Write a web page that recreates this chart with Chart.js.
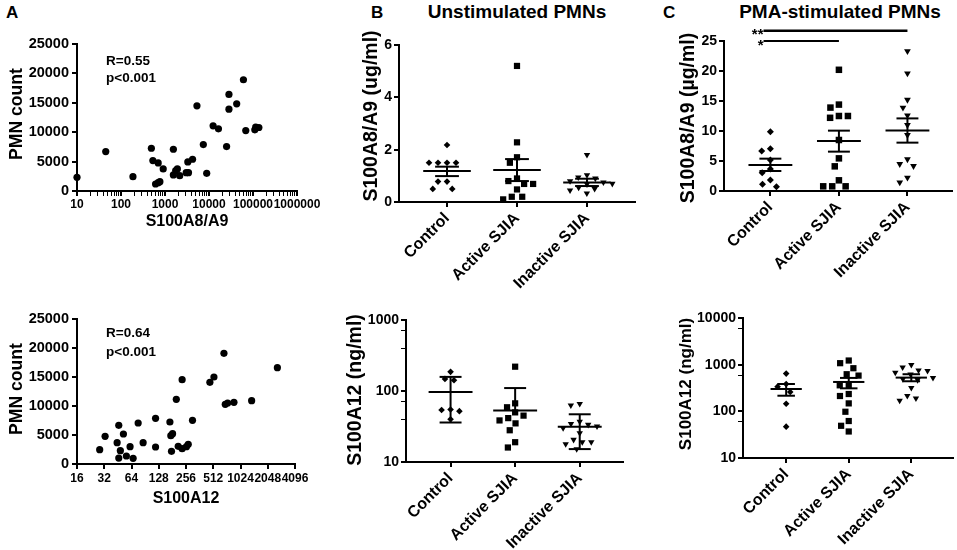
<!DOCTYPE html>
<html>
<head>
<meta charset="utf-8">
<title>S100 proteins and PMN count in SJIA</title>
<script src="https://cdn.jsdelivr.net/npm/chart.js@4.4.1/dist/chart.umd.min.js"></script>
<style>
  html, body { margin: 0; padding: 0; background: #fff; overflow: hidden; }
  #fig { position: relative; width: 957px; height: 550px; font-family: "Liberation Sans", Arial, sans-serif; font-weight: bold; color: #000; }
  #fig canvas { position: absolute; }
  .tag { position: absolute; font-size: 17px; line-height: 20px; }
  .head { position: absolute; font-size: 19px; line-height: 22px; text-align: center; white-space: nowrap; }
</style>
</head>
<body>
<div id="fig">
  <div class="tag" style="left:6px;top:3px">A</div>
  <div class="tag" style="left:371px;top:3px">B</div>
  <div class="tag" style="left:663px;top:3px">C</div>
  <div class="head" style="left:387px;top:1px;width:260px">Unstimulated PMNs</div>
  <div class="head" style="left:710px;top:1px;width:260px">PMA-stimulated PMNs</div>
</div>
<script>
// ---- data ----
const groups = ["Control", "Active SJIA", "Inactive SJIA"];

// A, top: S100A8/A9 vs PMN count
const a1X = [10, 45, 187, 490, 530, 610, 700, 765, 700, 910, 1550, 1550, 1750, 1910, 2160, 3030, 3420, 3300, 4230, 5320, 7430, 8870, 12400, 16400, 25100, 28400, 28400, 42600, 60600, 68500, 110000, 115000, 136000];
const a1Y = [2330, 6700, 2440, 7270, 5170, 1190, 1420, 1590, 4770, 3750, 7100, 2730, 3470, 3750, 2610, 3120, 3120, 4940, 5400, 14490, 7900, 3010, 11080, 10570, 7560, 13920, 16420, 14830, 18920, 10280, 10400, 10850, 10800];
const a1Notes = ["R=0.55", "p<0.001"];

// A, bottom: S100A12 vs PMN count
const a2X = [28.5, 32.7, 44.4, 46.3, 46.3, 48.2, 52.1, 56.2, 61.7, 66.7, 75.8, 86, 118, 118, 170, 174, 182, 177, 200, 210, 232, 232, 259, 271, 302, 470, 521, 672, 695, 738, 867, 1360, 2616];
const a2Y = [2470, 4770, 3680, 6670, 1030, 2300, 5170, 1380, 2990, 980, 7070, 3680, 7870, 2930, 7240, 4890, 5230, 2180, 11150, 3050, 2640, 14540, 2990, 3390, 7530, 14080, 15000, 19080, 10290, 10520, 10630, 10920, 16610];
const a2Notes = ["R=0.64", "p<0.001"];

const pmnTicks = [0, 5000, 10000, 15000, 20000, 25000];
const a1XDecades = [10, 100, 1000, 10000, 100000, 1000000];
const a2XTicks = [16, 32, 64, 128, 256, 512, 1024, 2048, 4096];

// B, top: unstimulated S100A8/A9 (ug/ml), mean +/- SEM
const b1Control = [2.18, 1.5, 1.5, 1.5, 1.5, 0.78, 0.78, 0.5, 0.5];
const b1Active = [5.2, 2.28, 1.71, 1.5, 0.9, 0.8, 0.69, 0.69, 0.48, 0.2, 0.2, 0.1];
const b1Inactive = [1.8, 1.03, 0.94, 0.9, 0.8, 0.75, 0.7, 0.68, 0.55, 0.5, 0.45, 0.33];
const b1Mean = [1.18, 1.22, 0.75];
const b1Low = [0.99, 0.8, 0.61];
const b1High = [1.35, 1.64, 0.89];
const b1Ticks = [0, 2, 4, 6];

// B, bottom: unstimulated S100A12 (ng/ml), mean +/- SD
const b2Control = [186, 142, 148, 55, 52, 54, 40];
const b2Active = [220, 67, 59, 45, 50, 41.5, 38.5, 35, 28, 19, 16];
const b2Inactive = [66, 63, 37, 33.5, 31.7, 30, 34.6, 25.5, 19.1, 20.6, 17.9, 19.1, 15.2];
const b2Mean = [97, 53, 31.4];
const b2Low = [36, null, 15.2];
const b2High = [158, 110, 47];
const b2Decades = [10, 100, 1000];

// C, top: PMA-stimulated S100A8/A9 (ug/ml), mean +/- SEM
const c1Control = [9.89, 7.06, 6.67, 5.17, 3.67, 3.06, 1.83, 1.11, 0.72];
const c1Active = [20.2, 14.4, 13.9, 12.5, 12.2, 12.5, 8.5, 5.44, 4.11, 1.78, 0.78, 0.78, 0.78];
const c1Inactive = [23.3, 19.6, 15.2, 13.9, 12.6, 11.0, 9.33, 5.28, 4.5, 4.17, 2.22, 1.44];
const c1Mean = [4.35, 8.33, 10.1];
const c1Low = [3.33, 6.56, 8.06];
const c1High = [5.39, 10.06, 12.1];
const c1Ticks = [0, 5, 10, 15, 20, 25];
const c1Sig = [[0, 1, 25, "*"], [0, 2, 26.7, "**"]];

// C, bottom: PMA-stimulated S100A12 (ng/ml), mean +/- SEM
const c2Control = [644, 385, 338, 259, 145, 47];
const c2Active = [1227, 1076, 839, 624, 583, 361, 367, 235, 213, 148, 98, 62, 49, 37];
const c2Inactive = [990, 880, 760, 740, 680, 620, 520, 490, 470, 320, 215, 190, 170];
const c2Mean = [301, 426, 528];
const c2Low = [216, 311, 441];
const c2High = [385, 520, 624];
const c2Decades = [10, 100, 1000, 10000];

// ---- setup ----
const FONT = '"Liberation Sans", Arial, sans-serif';
Chart.defaults.font.family = FONT;
Chart.defaults.font.weight = 'bold';
Chart.defaults.color = '#000';

const X_TITLE = 16;

// where each plot area and its y title sit on the page
const boxes = {
  a1: { x: 0, y: 0, w: 340, h: 245, L: 77, T: 44, R: 297, B: 191, yTitle: 17, yMid: 114, ySize: 17.6, xTitle: 222 },
  a2: { x: 0, y: 280, w: 340, h: 240, L: 77, T: 319, R: 295, B: 464, yTitle: 17, yMid: 389, ySize: 17.6, xTitle: 499 },
  b1: { x: 360, y: 0, w: 300, h: 300, L: 399, T: 45, R: 635, B: 202, yTitle: 372, yMid: 116, ySize: 19.5 },
  b2: { x: 340, y: 295, w: 320, h: 255, L: 406, T: 320, R: 623, B: 462, yTitle: 356, yMid: 390, ySize: 19.5 },
  c1: { x: 660, y: 0, w: 297, h: 300, L: 724, T: 41, R: 954, B: 191, yTitle: 689, yMid: 118, ySize: 19.5 },
  c2: { x: 660, y: 295, w: 297, h: 255, L: 743, T: 318, R: 955, B: 458, yTitle: 686, yMid: 384, ySize: 17 },
};

// decades plus 2..9 minor ticks
function logTicks(decades) {
  const t = [];
  decades.forEach((d, i) => {
    t.push({ value: d, major: true });
    if (i < decades.length - 1) for (let m = 2; m <= 9; m++) t.push({ value: d * m, major: false });
  });
  return t;
}

// rotated y-axis title, drawn at full size (the built-in one shrinks to the axis length)
const yTitlePlugin = {
  id: 'ytitle',
  afterDraw(chart, args, o) {
    if (!o.text) return;
    const ctx = chart.ctx;
    ctx.save();
    ctx.translate(o.x, o.y);
    ctx.rotate(-Math.PI / 2);
    ctx.font = 'bold ' + o.size + 'px ' + FONT;
    ctx.fillStyle = '#000';
    ctx.textAlign = 'center';
    ctx.textBaseline = 'middle';
    ctx.fillText(o.text, 0, 0);
    ctx.restore();
  }
};

const summaryPlugin = {
  id: 'summary',
  afterDatasetsDraw(chart, args, o) {
    const { ctx, scales: { x, y } } = chart;
    const unit = x.getPixelForValue(1) - x.getPixelForValue(0);
    const seg = (x0, x1, y0, y1) => { ctx.beginPath(); ctx.moveTo(x0, y0); ctx.lineTo(x1, y1); ctx.stroke(); };
    ctx.save();
    ctx.strokeStyle = '#000';
    ctx.lineWidth = 2;
    o.mean.forEach((m, i) => {
      const cx = x.getPixelForValue(i);
      const my = y.getPixelForValue(m);
      const hy = y.getPixelForValue(o.high[i]);
      const ly = o.low[i] == null ? my : y.getPixelForValue(o.low[i]);
      seg(cx - o.half * unit, cx + o.half * unit, my, my);
      seg(cx, cx, ly, hy);
      seg(cx - o.cap * unit, cx + o.cap * unit, hy, hy);
      if (o.low[i] != null) seg(cx - o.cap * unit, cx + o.cap * unit, ly, ly);
    });
    ctx.restore();
  }
};

const notesPlugin = {
  id: 'notes',
  afterDraw(chart, args, o) {
    const { ctx, chartArea } = chart;
    ctx.save();
    ctx.font = 'bold 13.5px ' + FONT;
    ctx.fillStyle = '#000';
    ctx.textBaseline = 'middle';
    o.lines.forEach((t, i) => ctx.fillText(t, chartArea.left + o.dx, chartArea.top + o.dy[i]));
    ctx.restore();
  }
};

const sigPlugin = {
  id: 'sig',
  afterDraw(chart, args, o) {
    const { ctx, scales: { x, y } } = chart;
    ctx.save();
    ctx.strokeStyle = '#000';
    ctx.fillStyle = '#000';
    ctx.font = 'bold 15px ' + FONT;
    ctx.textAlign = 'right';
    ctx.textBaseline = 'alphabetic';
    o.pairs.forEach(([a, b, level, mark], i) => {
      const x0 = x.getPixelForValue(a - 0.1), x1 = x.getPixelForValue(b);
      const py = y.getPixelForValue(level);
      ctx.lineWidth = i === 0 ? 2 : 2.5;
      ctx.beginPath(); ctx.moveTo(x0, py); ctx.lineTo(x1, py); ctx.stroke();
      ctx.fillText(mark, x0, py + 8.5);
    });
    ctx.restore();
  }
};

function baseAxis(type, min, max, title, titleSize) {
  return {
    type, min, max,
    border: { display: true, color: '#000', width: 2 },
    grid: {
      drawOnChartArea: false, drawTicks: true, tickLength: 5, color: '#000',
      lineWidth: c => (c.tick && c.tick.major === false ? 1 : 2),
    },
    ticks: { color: '#000', padding: 2, font: { size: 14, weight: 'bold' } },
    title: title ? { display: true, text: title, color: '#000', padding: 0, font: { size: titleSize, weight: 'bold' } } : { display: false },
  };
}

function mount(p, yText, config) {
  const c = document.createElement('canvas');
  c.width = p.w; c.height = p.h;
  c.style.left = p.x + 'px';
  c.style.top = p.y + 'px';
  document.getElementById('fig').appendChild(c);
  const yW = p.L - p.x;
  const xH = p.xTitle ? p.xTitle + X_TITLE * 0.6 - p.B : p.y + p.h - p.B;
  config.options.layout = {
    padding: { left: 0, top: p.T - p.y, right: p.x + p.w - p.R, bottom: p.y + p.h - p.B - xH }
  };
  config.options.scales.x.afterFit = s => { s.height = xH; };
  config.options.scales.y.afterFit = s => { s.width = yW; };
  config.options.responsive = false;
  config.options.animation = false;
  config.options.events = [];
  config.options.plugins.legend = { display: false };
  config.options.plugins.tooltip = { enabled: false };
  config.options.plugins.ytitle = { text: yText, size: p.ySize, x: p.yTitle - p.x, y: p.yMid - p.y };
  config.plugins.push(yTitlePlugin);
  return new Chart(c, config);
}

// ---- A: correlation scatters ----
function scatterPanel(p, xs, ys, xAxis, notes, noteDy) {
  const y = baseAxis('linear', 0, 25000);
  y.afterBuildTicks = a => { a.ticks = pmnTicks.map(v => ({ value: v })); };
  y.ticks.callback = v => String(v);
  y.ticks.font.size = 14.5;
  y.ticks.padding = 3;
  return mount(p, 'PMN count', {
    type: 'scatter',
    data: {
      datasets: [{
        data: xs.map((v, i) => ({ x: v, y: ys[i] })),
        pointStyle: 'circle', pointRadius: 3.6,
        pointBackgroundColor: '#000', pointBorderWidth: 0, clip: false,
      }]
    },
    options: { scales: { x: xAxis, y }, plugins: { notes: { lines: notes, dx: 29, dy: noteDy } } },
    plugins: [notesPlugin],
  });
}

const a1Axis = baseAxis('logarithmic', 10, 1000000, 'S100A8/A9', X_TITLE);
a1Axis.afterBuildTicks = a => { a.ticks = logTicks(a1XDecades); };
Object.assign(a1Axis.ticks, { font: { size: 12, weight: 'bold' }, padding: 1, autoSkip: false, maxRotation: 0, minRotation: 0,
  callback: (v, i, t) => (t[i].major ? String(v) : '') });
scatterPanel(boxes.a1, a1X, a1Y, a1Axis, a1Notes, [17, 34]);

const a2Axis = baseAxis('logarithmic', 16, 4096, 'S100A12', X_TITLE);
a2Axis.afterBuildTicks = a => { a.ticks = a2XTicks.map(v => ({ value: v, major: true })); };
Object.assign(a2Axis.ticks, { font: { size: 12, weight: 'bold' }, padding: 2, autoSkip: false, maxRotation: 0, minRotation: 0,
  callback: v => String(v) });
scatterPanel(boxes.a2, a2X, a2Y, a2Axis, a2Notes, [14, 33]);

// ---- B and C: group dot plots ----
// spread each group sideways so that markers do not overlap
function swarm(chart, gap) {
  const xs = chart.scales.x, ys = chart.scales.y;
  const unit = xs.getPixelForValue(1) - xs.getPixelForValue(0);
  chart.data.datasets.forEach((ds, g) => {
    const pts = ds.data.map(pt => ({ pt, py: ys.getPixelForValue(pt.y), dx: 0 }));
    const placed = [];
    pts.slice().sort((a, b) => a.py - b.py).forEach(q => {
      const near = placed.filter(r => Math.abs(r.py - q.py) < gap);
      const cands = [0];
      near.forEach(r => {
        const s = Math.sqrt(gap * gap - (r.py - q.py) ** 2);
        cands.push(r.dx - s, r.dx + s);
      });
      cands.sort((a, b) => Math.abs(a) - Math.abs(b) || a - b);
      q.dx = cands.find(c => near.every(r => Math.hypot(c - r.dx, r.py - q.py) >= gap - 0.01));
      placed.push(q);
    });
    pts.forEach(q => { q.pt.x = g + q.dx / unit; });
  });
  chart.update('none');
}

function dotPanel(p, sets, xRange, y, yText, summary, sizes, extra) {
  const styles = ['rectRot', 'rect', 'triangle'];
  const x = baseAxis('linear', xRange[0], xRange[1]);
  x.afterBuildTicks = a => { a.ticks = groups.map((g, i) => ({ value: i })); };
  Object.assign(x.ticks, { font: { size: 16, weight: 'bold' }, padding: 2, autoSkip: false, maxRotation: 45, minRotation: 45,
    callback: v => groups[v] });
  const plugins = { summary };
  const list = [summaryPlugin];
  if (extra) { plugins.sig = extra; list.push(sigPlugin); }
  const chart = mount(p, yText, {
    type: 'scatter',
    data: {
      datasets: sets.map((vals, g) => ({
        data: vals.map(v => ({ x: g, y: v })),
        pointStyle: styles[g], pointRadius: sizes[g], pointRotation: g === 2 ? 180 : 0,
        pointBackgroundColor: '#000', pointBorderWidth: 0, clip: false,
      }))
    },
    options: { scales: { x, y }, plugins },
    plugins: list,
  });
  swarm(chart, 9);
  return chart;
}

function linearY(max, ticks) {
  const y = baseAxis('linear', 0, max);
  y.afterBuildTicks = a => { a.ticks = ticks.map(v => ({ value: v })); };
  y.ticks.callback = v => String(v);
  return y;
}

function logY(decades) {
  const y = baseAxis('logarithmic', decades[0], decades[decades.length - 1]);
  y.afterBuildTicks = a => { a.ticks = logTicks(decades); };
  y.ticks.callback = (v, i, t) => (t[i].major ? String(v) : '');
  return y;
}

dotPanel(boxes.b1, [b1Control, b1Active, b1Inactive], [-0.686, 2.686],
  linearY(6, b1Ticks), 'S100A8/A9 (ug/ml)',
  { mean: b1Mean, low: b1Low, high: b1High, half: 0.34, cap: 0.17 }, [3.3, 4.4, 3.7]);

dotPanel(boxes.b2, [b2Control, b2Active, b2Inactive], [-0.69, 2.67],
  logY(b2Decades), 'S100A12 (ng/ml)',
  { mean: b2Mean, low: b2Low, high: b2High, half: 0.34, cap: 0.17 }, [3.3, 4.4, 3.7]);

dotPanel(boxes.c1, [c1Control, c1Active, c1Inactive], [-0.677, 2.656],
  linearY(25, c1Ticks), 'S100A8/A9 (µg/ml)',
  { mean: c1Mean, low: c1Low, high: c1High, half: 0.32, cap: 0.16 }, [3.5, 4.6, 3.9],
  { pairs: c1Sig });

dotPanel(boxes.c2, [c2Control, c2Active, c2Inactive], [-0.69, 2.66],
  logY(c2Decades), 'S100A12 (ng/ml)',
  { mean: c2Mean, low: c2Low, high: c2High, half: 0.25, cap: 0.14 }, [3.3, 4.4, 3.7]);
</script>
</body>
</html>
